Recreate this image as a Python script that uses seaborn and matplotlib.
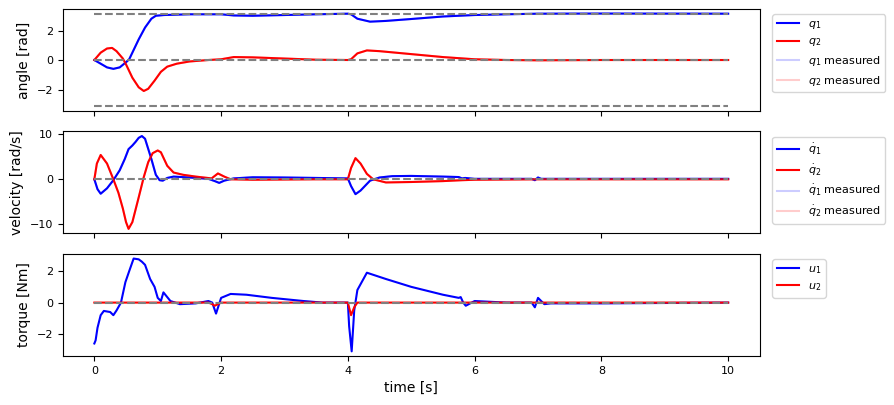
import numpy as np
import matplotlib
matplotlib.use("Agg")
import matplotlib.pyplot as plt
import seaborn as sns

# angles
q1_t = [0, 0.1, 0.2, 0.3, 0.4, 0.5, 0.55, 0.6, 0.7, 0.8, 0.9, 0.97, 1.1, 1.5, 2.0, 2.2, 2.5, 3.0, 3.5, 4.0, 4.05,
        4.15, 4.35, 4.6, 5.0, 5.5, 6.0, 6.5, 7.0, 8.0, 10.0]
q1 = [0, -0.25, -0.5, -0.6, -0.5, -0.15, 0.05, 0.5, 1.4, 2.2, 2.8, 3.0, 3.05, 3.1, 3.1, 3.02, 3.0, 3.05, 3.1, 3.14, 3.1,
      2.8, 2.6, 2.65, 2.78, 2.95, 3.05, 3.1, 3.14, 3.15, 3.14]
q2_t = [0, 0.1, 0.2, 0.28, 0.35, 0.45, 0.5, 0.6, 0.7, 0.78, 0.85, 0.95, 1.05, 1.15, 1.3, 1.5, 1.8, 2.0, 2.2, 2.5,
        3.0, 3.5, 4.0, 4.05, 4.15, 4.3, 4.5, 5.0, 5.5, 6.0, 6.5, 7.0, 8.0, 10.0]
q2 = [0, 0.5, 0.78, 0.82, 0.6, 0.1, -0.3, -1.2, -1.85, -2.1, -1.95, -1.4, -0.8, -0.45, -0.25, -0.1, 0.0, 0.05, 0.2,
      0.18, 0.1, 0.02, 0.0, 0.05, 0.45, 0.65, 0.6, 0.4, 0.2, 0.05, 0.0, -0.02, 0.0, 0.0]

# velocities
qd1_t = [0, 0.05, 0.1, 0.2, 0.3, 0.4, 0.48, 0.54, 0.6, 0.65, 0.7, 0.75, 0.8, 0.9, 0.97, 1.03, 1.08, 1.15, 1.25,
         1.5, 1.8, 1.9, 1.97, 2.05, 2.2, 2.5, 3.0, 3.5, 4.0, 4.05, 4.12, 4.2, 4.35, 4.5, 4.7, 5.0, 5.5, 5.75,
         5.8, 5.85, 6.0, 6.9, 6.95, 7.0, 7.05, 10.0]
qd1 = [0, -2.2, -3.2, -2.0, -0.2, 2.0, 4.5, 6.7, 7.5, 8.3, 9.2, 9.6, 9.0, 4.5, 1.0, -0.2, -0.3, 0.3, 0.6,
       0.4, 0.1, -0.4, -0.8, -0.3, 0.2, 0.45, 0.4, 0.3, 0.2, -1.5, -3.3, -2.5, -0.3, 0.4, 0.7, 0.75, 0.6, 0.5,
       0.2, 0.3, 0.1, 0.1, -0.2, 0.4, 0.1, 0.1]
qd2_t = [0, 0.04, 0.1, 0.2, 0.3, 0.38, 0.45, 0.5, 0.54, 0.6, 0.7, 0.78, 0.85, 0.92, 1.0, 1.05, 1.15, 1.25, 1.4,
         1.6, 1.85, 1.95, 2.05, 2.15, 2.5, 3.0, 3.5, 4.0, 4.05, 4.12, 4.2, 4.3, 4.4, 4.6, 5.0, 5.5, 5.8, 6.0,
         7.0, 10.0]
qd2 = [0, 3.5, 5.4, 3.5, 0.0, -3.0, -6.5, -9.5, -11.0, -9.5, -4.0, 0.5, 3.8, 5.8, 6.4, 6.0, 3.0, 1.5, 1.0,
       0.6, 0.2, 1.3, 0.6, 0.0, -0.1, -0.05, 0.0, 0.0, 2.5, 4.7, 3.5, 1.2, 0.0, -0.7, -0.6, -0.4, -0.2, -0.1,
       0.0, 0.0]

# torques
u1_t = [0, 0.02, 0.05, 0.1, 0.15, 0.25, 0.3, 0.35, 0.42, 0.49, 0.55, 0.62, 0.7, 0.75, 0.8, 0.88, 0.95, 1.0,
        1.05, 1.09, 1.2, 1.35, 1.6, 1.8, 1.86, 1.92, 2.0, 2.15, 2.4, 2.8, 3.3, 3.6, 4.0, 4.02, 4.06, 4.1, 4.15,
        4.3, 4.6, 5.0, 5.5, 5.75, 5.78, 5.82, 5.86, 6.0, 6.5, 6.9, 6.95, 7.0, 7.1, 7.2, 8.0, 10.0]
u1 = [-2.6, -2.4, -1.6, -0.8, -0.53, -0.6, -0.8, -0.5, 0.0, 1.3, 2.0, 2.8, 2.75, 2.6, 2.4, 1.5, 1.0, 0.3,
      0.1, 0.65, 0.1, -0.1, -0.05, 0.1, 0.0, -0.7, 0.3, 0.55, 0.5, 0.3, 0.1, 0.0, 0.0, -1.5, -3.1, -0.5, 0.8,
      1.9, 1.5, 1.0, 0.5, 0.3, 0.35, 0.0, -0.2, 0.1, 0.0, 0.0, -0.3, 0.3, -0.1, -0.05, -0.05, 0.0]
u2_t = [0, 1.8, 1.86, 1.9, 1.95, 2.0, 4.0, 4.05, 4.1, 4.15, 10.0]
u2 = [0, 0, -0.1, -0.2, -0.1, 0, 0, -0.8, -0.3, 0, 0]

fig, axes = plt.subplots(3, 1, sharex=True, figsize=(8.95, 4.05), dpi=100)
fig.subplots_adjust(left=0.07, right=0.849, top=0.978, bottom=0.121, hspace=0.2)

ax = axes[0]
sns.lineplot(x=q1_t, y=q1, color="blue", label="$q_1$", ax=ax, estimator=None)
sns.lineplot(x=q2_t, y=q2, color="red", label="$q_2$", ax=ax, estimator=None)
sns.lineplot(x=q1_t, y=q1, color="blue", alpha=0.2, label="$q_1$ measured", ax=ax, estimator=None)
sns.lineplot(x=q2_t, y=q2, color="red", alpha=0.2, label="$q_2$ measured", ax=ax, estimator=None)
ax.hlines([-np.pi, 0, np.pi], 0, 10, colors="gray", linestyles="--")
ax.set_ylabel("angle [rad]")

ax = axes[1]
sns.lineplot(x=qd1_t, y=qd1, color="blue", label=r"$\dot{q}_1$", ax=ax, estimator=None)
sns.lineplot(x=qd2_t, y=qd2, color="red", label=r"$\dot{q}_2$", ax=ax, estimator=None)
sns.lineplot(x=qd1_t, y=qd1, color="blue", alpha=0.2, label=r"$\dot{q}_1$ measured", ax=ax, estimator=None)
sns.lineplot(x=qd2_t, y=qd2, color="red", alpha=0.2, label=r"$\dot{q}_2$ measured", ax=ax, estimator=None)
ax.hlines([0], 0, 10, colors="gray", linestyles="--")
ax.set_ylabel("velocity [rad/s]")

ax = axes[2]
sns.lineplot(x=u1_t, y=u1, color="blue", label="$u_1$", ax=ax, estimator=None)
sns.lineplot(x=u2_t, y=u2, color="red", label="$u_2$", ax=ax, estimator=None)
ax.hlines([0], 0, 10, colors="gray", linestyles="--")
ax.set_ylabel("torque [Nm]")
ax.set_xlabel("time [s]")

for ax in axes:
    ax.tick_params(labelsize=8)
    ax.legend(loc="upper left", bbox_to_anchor=(1.01, 1), fontsize=8)
axes[2].set_xticks([0, 2, 4, 6, 8, 10])

plt.savefig("out.png", dpi=100)
